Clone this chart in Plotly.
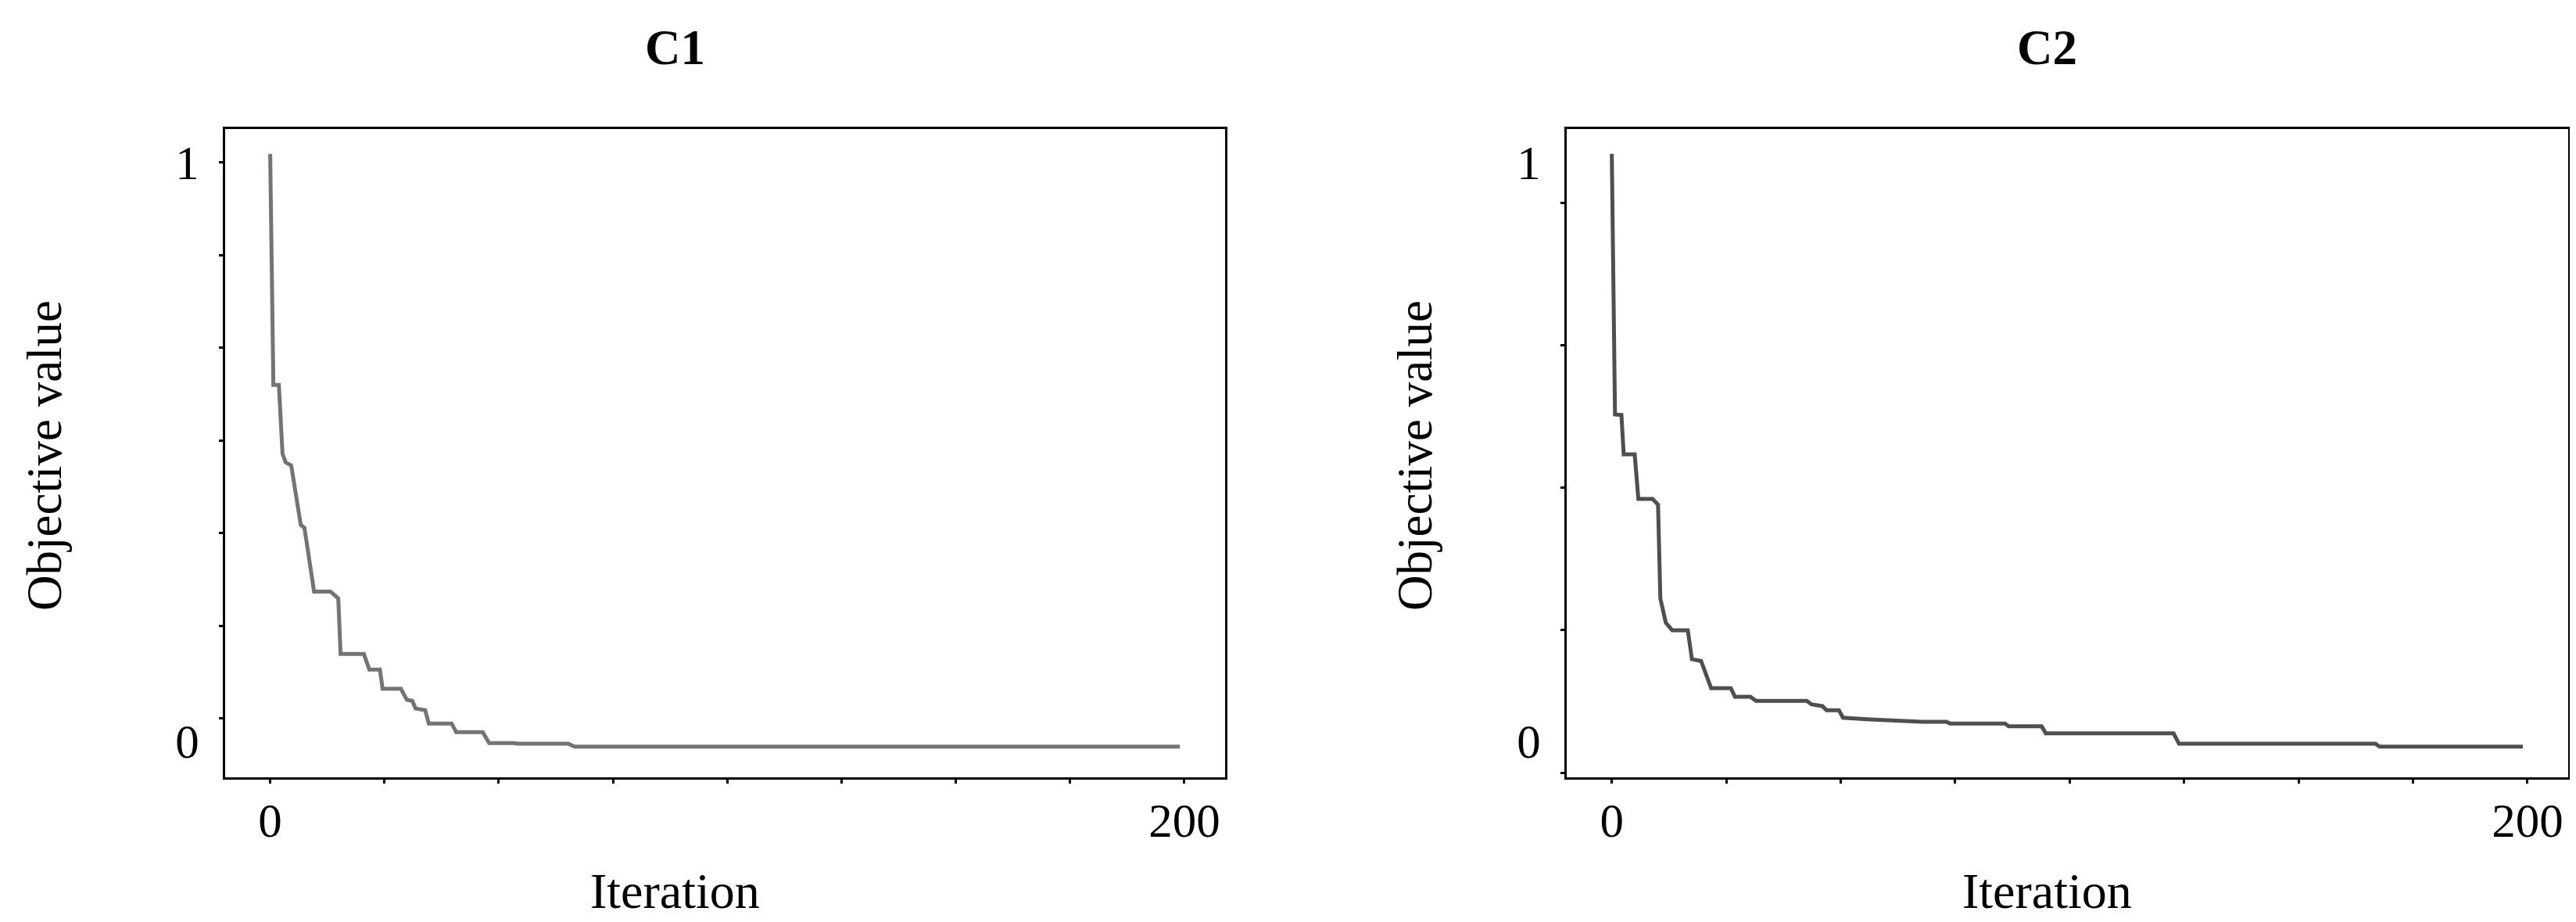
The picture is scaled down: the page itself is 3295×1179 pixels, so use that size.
import plotly.graph_objects as go

# ---- data ----
c1_iter = [0, 0.7, 1.9, 2.7, 3.4, 4.6, 6.7, 7.5, 9.6, 13.2, 14.9, 15.4, 20.5, 21.7, 24.0,
           24.6, 28.6, 29.9, 31.1, 31.8, 33.9, 34.7, 39.7, 40.7, 46.5, 47.9, 53.4, 54.1,
           65.2, 66.6, 199]
c1_obj = [1.015, 0.616, 0.616, 0.497, 0.482, 0.477, 0.374, 0.369, 0.259, 0.259, 0.247,
          0.151, 0.151, 0.124, 0.124, 0.091, 0.091, 0.072, 0.070, 0.057, 0.054, 0.031,
          0.031, 0.016, 0.016, -0.003, -0.003, -0.004, -0.004, -0.009, -0.009]

c2_iter = [0, 0.7, 2.1, 2.6, 5.0, 5.8, 8.9, 10.1, 10.6, 11.8, 13.2, 16.6, 17.5, 19.5, 21.7,
           26.0, 26.9, 30.3, 31.5, 42.6, 43.6, 46.0, 46.9, 49.6, 50.5, 56.5, 67.9, 73.1,
           73.9, 85.9, 86.7, 93.9, 94.8, 122.7, 123.9, 166.8, 167.7, 199]
c2_obj = [1.015, 0.565, 0.564, 0.496, 0.496, 0.419, 0.419, 0.409, 0.247, 0.205, 0.192,
          0.192, 0.142, 0.139, 0.092, 0.092, 0.077, 0.077, 0.070, 0.070, 0.064, 0.061,
          0.054, 0.054, 0.041, 0.038, 0.034, 0.034, 0.031, 0.031, 0.026, 0.026, 0.014,
          0.014, -0.004, -0.004, -0.009, -0.009]

panel_titles = ["C1", "C2"]
x_title = "Iteration"
y_title = "Objective value"

x_label_vals = [0, 200]
x_label_text = ["0", "200"]
x_minor_vals = [0, 25, 50, 75, 100, 125, 150, 175, 200]
y_label_vals = [0, 1]
y_label_text = ["0", "1"]
c1_y_minor = [1.0, 0.84, 0.68, 0.52, 0.36, 0.20, 0.04]
c2_y_minor = [0.93, 0.684, 0.438, 0.192, -0.054]

FONT = "Liberation Serif, Times New Roman, serif"
W, H = 3295, 1179

fig = go.Figure()
fig.add_trace(go.Scatter(x=c1_iter, y=c1_obj, mode="lines",
                         line=dict(color="#747474", width=5), xaxis="x", yaxis="y",
                         showlegend=False))
fig.add_trace(go.Scatter(x=c2_iter, y=c2_obj, mode="lines",
                         line=dict(color="#4f4f4f", width=5), xaxis="x2", yaxis="y2",
                         showlegend=False))

ydom = [1 - 986 / H, 1 - 157 / H]
xdom1 = [280 / W, 1559 / W]
xdom2 = [1996 / W, 3277 / W]
xrange_ = [-9.85, 208.9]
yrange_ = [-0.062, 1.058]


def xaxis(domain, anchor):
    return dict(domain=domain, anchor=anchor, range=xrange_, showgrid=False, zeroline=False,
                showline=True, linecolor="black", linewidth=3, mirror=True,
                tickmode="array", tickvals=x_label_vals, ticktext=x_label_text,
                ticks="outside", ticklen=0, tickwidth=0,
                ticklabelstandoff=0,
                minor=dict(tickmode="array", tickvals=x_minor_vals, ticks="outside",
                           ticklen=5, tickwidth=3, tickcolor="black", showgrid=False),
                tickfont=dict(family=FONT, size=61, color="black"))


def yaxis(domain, anchor, minor_vals):
    return dict(domain=domain, anchor=anchor, range=yrange_, showgrid=False, zeroline=False,
                showline=True, linecolor="black", linewidth=3, mirror=True,
                tickmode="array", tickvals=y_label_vals, ticktext=y_label_text,
                ticks="outside", ticklen=0, tickwidth=0,
                ticklabelstandoff=18,
                minor=dict(tickmode="array", tickvals=minor_vals, ticks="outside",
                           ticklen=5, tickwidth=3, tickcolor="black", showgrid=False),
                tickfont=dict(family=FONT, size=61, color="black"))


fig.update_layout(
    width=W, height=H,
    margin=dict(l=0, r=0, t=0, b=0),
    paper_bgcolor="white", plot_bgcolor="white",
    xaxis=xaxis(xdom1, "y"),
    yaxis=yaxis(ydom, "x", c1_y_minor),
    xaxis2=xaxis(xdom2, "y2"),
    yaxis2=yaxis(ydom, "x2", c2_y_minor),
)

annots = []
for cx, lx, t in [(855, 49, panel_titles[0]), (2610, 1802, panel_titles[1])]:
    annots.append(dict(x=cx / W, y=1 - 53 / H, xref="paper", yref="paper", text="<b>%s</b>" % t,
                       showarrow=False, xanchor="center", yanchor="middle",
                       font=dict(family=FONT, size=63, color="black")))
    annots.append(dict(x=cx / W, y=1 - 1131 / H, xref="paper", yref="paper", text=x_title,
                       showarrow=False, xanchor="center", yanchor="middle",
                       font=dict(family=FONT, size=64, color="black")))
    annots.append(dict(x=lx / W, y=1 - 575 / H, xref="paper", yref="paper", text=y_title,
                       showarrow=False, xanchor="center", yanchor="middle", textangle=-90,
                       font=dict(family=FONT, size=63, color="black")))
fig.update_layout(annotations=annots)

fig.write_html("out.html")
